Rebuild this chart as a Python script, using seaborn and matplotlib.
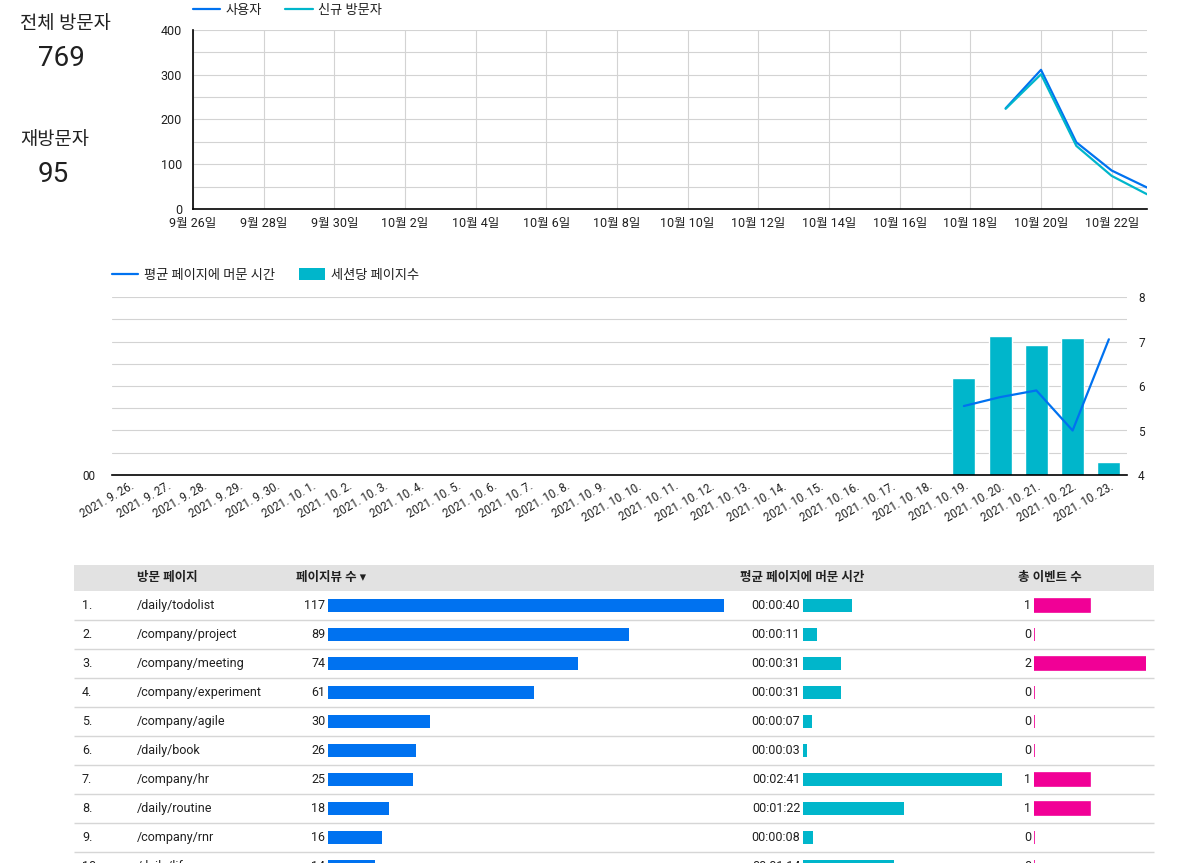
import matplotlib
matplotlib.use('Agg')
import matplotlib.pyplot as plt
import matplotlib.dates as mdates
from matplotlib.ticker import FuncFormatter
from matplotlib.lines import Line2D
from matplotlib.patches import Patch, Rectangle
import seaborn as sns
import pandas as pd

# ─────────────────────────────────────────────
# DATA
# ─────────────────────────────────────────────
total_visitors = 769
return_visitors = 95

trend_dates = pd.to_datetime(['2021-10-19', '2021-10-20', '2021-10-21', '2021-10-22', '2021-10-23'])
users = [225, 311, 149, 86, 48]
new_visitors = [224, 301, 141, 74, 33]
top_ticks = pd.date_range('2021-09-26', '2021-10-22', freq='2D')

day_labels = ['2021. 9. 26.', '2021. 9. 27.', '2021. 9. 28.', '2021. 9. 29.', '2021. 9. 30.',
              '2021. 10. 1.', '2021. 10. 2.', '2021. 10. 3.', '2021. 10. 4.', '2021. 10. 5.',
              '2021. 10. 6.', '2021. 10. 7.', '2021. 10. 8.', '2021. 10. 9.', '2021. 10. 10.',
              '2021. 10. 11.', '2021. 10. 12.', '2021. 10. 13.', '2021. 10. 14.', '2021. 10. 15.',
              '2021. 10. 16.', '2021. 10. 17.', '2021. 10. 18.', '2021. 10. 19.', '2021. 10. 20.',
              '2021. 10. 21.', '2021. 10. 22.', '2021. 10. 23.']
session_days = ['2021. 10. 19.', '2021. 10. 20.', '2021. 10. 21.', '2021. 10. 22.', '2021. 10. 23.']
pages_per_session = [6.18, 7.12, 6.92, 7.08, 4.29]
avg_time_sec = [31, 35, 38, 20, 61]

pages = ['/daily/todolist', '/company/project', '/company/meeting', '/company/experiment',
         '/company/agile', '/daily/book', '/company/hr', '/daily/routine', '/company/rnr', '/daily/life']
pageviews = [117, 89, 74, 61, 30, 26, 25, 18, 16, 14]
time_on_page = [40, 11, 31, 31, 7, 3, 161, 82, 8, 74]
events = [1, 0, 2, 0, 0, 0, 1, 1, 0, 0]

# ─────────────────────────────────────────────
# STYLE
# ─────────────────────────────────────────────
sns.set_theme(style='white')
plt.rcParams['font.family'] = ['Roboto', 'Noto Sans CJK KR', 'DejaVu Sans']
plt.rcParams['text.color'] = '#202020'
plt.rcParams['xtick.color'] = '#202020'
plt.rcParams['ytick.color'] = '#202020'

BLUE = '#0072f0'
CYAN = '#00b6cb'
PINK = '#f10096'
GRID = '#d3d3d3'

W, H = 1180, 863


def box(l, t, r, b):
    return [l / W, 1 - b / H, (r - l) / W, (b - t) / H]


fig = plt.figure(figsize=(W / 100, H / 100), dpi=100)

# KPI texts
fig.text(20 / W, 1 - 24 / H, '전체 방문자', fontsize=13.5, va='center', ha='left')
fig.text(61 / W, 1 - 58 / H, f'{total_visitors}', fontsize=20, va='center', ha='center')
fig.text(20 / W, 1 - 140 / H, '재방문자', fontsize=13.5, va='center', ha='left')
fig.text(53 / W, 1 - 174 / H, f'{return_visitors}', fontsize=20, va='center', ha='center')

# ─────────────────────────────────────────────
# TOP: users / new visitors
# ─────────────────────────────────────────────
ax1 = fig.add_axes(box(193, 30, 1147, 209))
df_top = pd.DataFrame({
    'date': list(trend_dates) * 2,
    'value': users + new_visitors,
    'series': ['사용자'] * len(users) + ['신규 방문자'] * len(new_visitors),
})
sns.lineplot(data=df_top, x='date', y='value', hue='series', palette=[BLUE, CYAN],
             linewidth=1.6, ax=ax1)
ax1.set_xlim(pd.Timestamp('2021-09-26'), pd.Timestamp('2021-10-23'))
ax1.set_ylim(0, 400)
ax1.set_yticks([0, 100, 200, 300, 400])
ax1.set_yticks([50, 150, 250, 350], minor=True)
ax1.set_xticks(top_ticks)
ax1.xaxis.set_major_formatter(FuncFormatter(
    lambda x, pos: f'{mdates.num2date(x).month}월 {mdates.num2date(x).day}일'))
ax1.grid(True, which='both', axis='y', color=GRID, lw=0.8)
ax1.grid(True, which='major', axis='x', color=GRID, lw=0.8)
ax1.tick_params(which='both', length=0, labelsize=9)
ax1.tick_params(axis='x', pad=6)
ax1.tick_params(axis='y', pad=8)
ax1.set_xlabel('')
ax1.set_ylabel('')
for s in ['top', 'right']:
    ax1.spines[s].set_visible(False)
for s in ['left', 'bottom']:
    ax1.spines[s].set_color('black')
    ax1.spines[s].set_linewidth(1.2)
h, l = ax1.get_legend_handles_labels()
ax1.legend(h, l, loc='lower left', bbox_to_anchor=(0, 1.075), ncol=2, frameon=False,
           fontsize=9.5, handlelength=2.05, handletextpad=0.45, columnspacing=1.75,
           borderaxespad=0, borderpad=0)

# ─────────────────────────────────────────────
# MIDDLE: pages per session (bars) + avg time (line)
# ─────────────────────────────────────────────
ax2 = fig.add_axes(box(112, 297, 1127, 475))
df_bar = pd.DataFrame({'day': session_days, 'pps': pages_per_session})
sns.barplot(data=df_bar, x='day', y='pps', order=day_labels, color=CYAN, saturation=1,
            width=0.63, ax=ax2)

ax3 = ax2.twinx()
line_x = [day_labels.index(d) for d in session_days]
sns.lineplot(x=line_x, y=avg_time_sec, color=BLUE, linewidth=1.6, ax=ax3)
ax3.yaxis.tick_left()
ax3.set_ylim(0, 80)
ax3.set_yticks([0])
ax3.set_yticklabels(['00'])
ax3.tick_params(length=0, labelsize=8.5, pad=12)
ax3.set_ylabel('')
for s in ax3.spines.values():
    s.set_visible(False)

ax2.yaxis.tick_right()
ax2.set_ylim(4, 8)
ax2.set_yticks([4, 5, 6, 7, 8])
ax2.set_yticks([4.5, 5.5, 6.5, 7.5], minor=True)
ax2.grid(True, which='both', axis='y', color=GRID, lw=0.8)
ax2.set_axisbelow(True)
ax2.set_xticks(range(len(day_labels)))
ax2.set_xticklabels(day_labels, rotation=30, ha='right', rotation_mode='anchor')
ax2.tick_params(which='both', length=0, labelsize=8.3)
ax2.tick_params(axis='y', pad=8, labelsize=8.5, labelright=True, labelleft=False)
ax2.set_xlabel('')
ax2.set_ylabel('')
for s in ['top', 'right', 'left']:
    ax2.spines[s].set_visible(False)
ax2.spines['bottom'].set_color('black')
ax2.spines['bottom'].set_linewidth(1.2)
ax2.set_xlim(-0.5, len(day_labels) - 0.5)

mid_handles = [Line2D([0], [0], color=BLUE, lw=1.6),
               Patch(facecolor=CYAN, edgecolor='none')]
ax3.legend(mid_handles, ['평균 페이지에 머문 시간', '세션당 페이지수'], loc='lower left',
           bbox_to_anchor=(0, 1.085), ncol=2, frameon=False, fontsize=9.5,
           handlelength=2.0, handleheight=1.0, handletextpad=0.45, columnspacing=1.8,
           borderaxespad=0, borderpad=0)

# ─────────────────────────────────────────────
# TABLE
# ─────────────────────────────────────────────
ROW = 29
tax = fig.add_axes(box(0, 565, W, 591 + ROW * len(pages)))
tax.set_xlim(0, W)
tax.set_ylim(len(pages) - 0.5, len(pages) - 0.5 - (591 + ROW * len(pages) - 565) / ROW)
tax.axis('off')
head_y = -0.5 - 13 / ROW
tax.add_patch(Rectangle((74, -0.5 - 26 / ROW), 1080, 26 / ROW, facecolor='#e2e2e2',
                        edgecolor='none'))
for x, txt in [(137, '방문 페이지'), (296, '페이지뷰 수 ▾'), (740, '평균 페이지에 머문 시간'),
               (1018, '총 이벤트 수')]:
    tax.text(x, head_y, txt, fontsize=9, fontweight='bold', va='center', ha='left')
for i, p in enumerate(pages):
    tax.text(82, i, f'{i + 1}.', fontsize=9, va='center', ha='left')
    tax.text(137, i, p, fontsize=9, va='center', ha='left')
    tax.hlines(i + 0.5, 74, 1154, color='#d6d6d6', lw=1)


def fmt_time(s):
    return f'{s // 3600:02d}:{s % 3600 // 60:02d}:{s % 60:02d}'


def bar_column(l, r, values, color, labels, edge=None):
    bx = fig.add_axes(box(l, 591, r, 591 + ROW * len(pages)))
    sns.barplot(x=values, y=pages, orient='h', color=color, saturation=1, width=0.42,
                edgecolor=edge if edge else 'none', linewidth=1.2 if edge else 0, ax=bx)
    bx.set_xlim(0, max(values))
    bx.set_ylim(len(pages) - 0.5, -0.5)
    bx.axis('off')
    for i, lab in enumerate(labels):
        bx.annotate(lab, xy=(0, i), xytext=(-2, 0), textcoords='offset points',
                    ha='right', va='center', fontsize=9, annotation_clip=False)
    return bx


bar_column(328, 724, pageviews, BLUE, [str(v) for v in pageviews])
bar_column(803, 1002, time_on_page, CYAN, [fmt_time(v) for v in time_on_page])
bar_column(1034, 1146, events, PINK, [str(v) for v in events], edge=PINK)

plt.savefig('out.png', dpi=100)
plt.close()
